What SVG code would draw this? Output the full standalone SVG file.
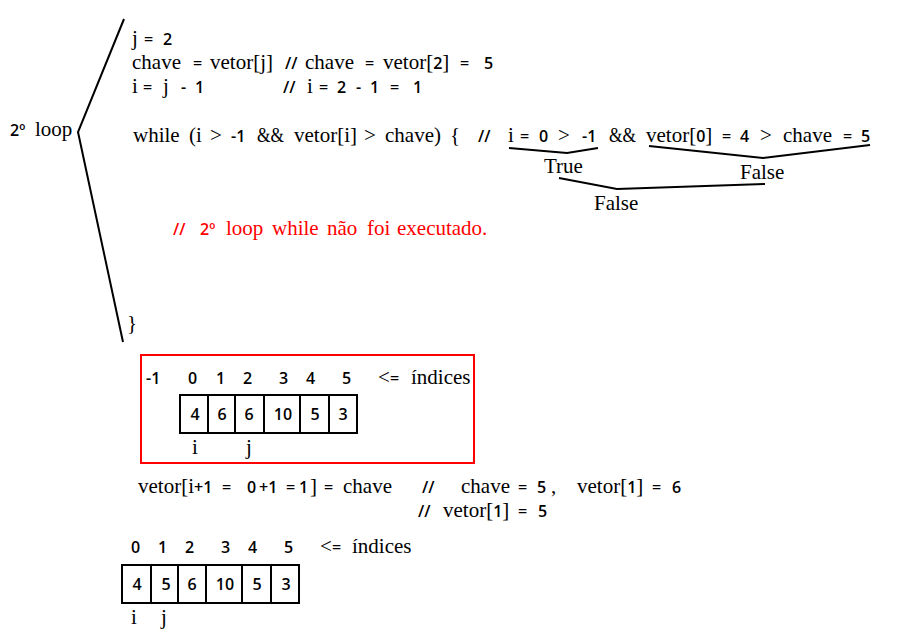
<svg xmlns="http://www.w3.org/2000/svg" width="898" height="638" viewBox="0 0 898 638">
<style>
.s{font-family:"Liberation Serif","Times New Roman",serif;font-size:21px;fill:#000}
.n{font-family:"Open Sans","Noto Sans","DejaVu Sans",sans-serif;font-size:16px;font-weight:600;fill:#000}
.r .s,.r .n{fill:#ff0000}
.ln{stroke:#000;stroke-width:2;fill:none}
.cell{stroke:#000;stroke-width:2;fill:#fff}
.c{text-anchor:middle}
</style>
<rect width="898" height="638" fill="#fff"/>
<g id="connectors">
<polyline class="ln" points="124,19 78,132 123,342"/>
<polyline class="ln" points="509,148 567,153 598,148"/>
<polyline class="ln" points="649,146 763,158 870,145"/>
<polyline class="ln" points="559,178 617,189 765,184"/>
</g>
<g id="label-loop">
<text y="136"><tspan class="n" x="10">2º</tspan><tspan class="s" x="35">loop</tspan></text>
</g>
<g id="code">
<text y="45"><tspan class="s" x="132">j</tspan><tspan class="n" x="144">=</tspan><tspan class="n" x="163">2</tspan></text>
<text y="69"><tspan class="s" x="132">chave</tspan><tspan class="n" x="193">=</tspan><tspan class="s" x="210">vetor[j]</tspan><tspan class="n" x="285">//</tspan><tspan class="s" x="305">chave</tspan><tspan class="n" x="365">=</tspan><tspan class="s" x="383">vetor[</tspan><tspan class="n">2</tspan><tspan class="s">]</tspan><tspan class="n" x="460">=</tspan><tspan class="n" x="484">5</tspan></text>
<text y="93"><tspan class="s" x="132">i</tspan><tspan class="n" x="143">=</tspan><tspan class="s" x="163">j</tspan><tspan class="n" x="181">-</tspan><tspan class="n" x="195">1</tspan><tspan class="n" x="283">//</tspan><tspan class="s" x="307">i</tspan><tspan class="n" x="319">=</tspan><tspan class="n" x="337">2</tspan><tspan class="n" x="356">-</tspan><tspan class="n" x="370">1</tspan><tspan class="n" x="390">=</tspan><tspan class="n" x="413">1</tspan></text>
<text y="142"><tspan class="s" x="133">while</tspan><tspan class="s" x="189">(i</tspan><tspan class="s" x="210">&gt;</tspan><tspan class="n" x="231">-1</tspan><tspan class="s" x="257" textLength="27" lengthAdjust="spacingAndGlyphs">&amp;&amp;</tspan><tspan class="s" x="294">vetor[i]</tspan><tspan class="s" x="364">&gt;</tspan><tspan class="s" x="385">chave)</tspan><tspan class="s" x="450">{</tspan><tspan class="n" x="478">//</tspan><tspan class="s" x="508">i</tspan><tspan class="n" x="520">=</tspan><tspan class="n" x="539">0</tspan><tspan class="s" x="558">&gt;</tspan><tspan class="n" x="582">-1</tspan><tspan class="s" x="609" textLength="27" lengthAdjust="spacingAndGlyphs">&amp;&amp;</tspan><tspan class="s" x="646">vetor[</tspan><tspan class="n">0</tspan><tspan class="s">]</tspan><tspan class="n" x="722">=</tspan><tspan class="n" x="740">4</tspan><tspan class="s" x="760">&gt;</tspan><tspan class="s" x="783">chave</tspan><tspan class="n" x="843">=</tspan><tspan class="n" x="861">5</tspan></text>
<text class="s" x="127" y="330">}</text>
</g>
<g id="eval">
<text class="s" x="544" y="173">True</text>
<text class="s" x="740" y="179">False</text>
<text class="s" x="594" y="210">False</text>
</g>
<g id="note" class="r">
<text y="235"><tspan class="n" x="173">//</tspan><tspan class="n" x="200">2º</tspan><tspan class="s" x="226">loop</tspan><tspan class="s" x="272">while</tspan><tspan class="s" x="327">não</tspan><tspan class="s" x="367">foi</tspan><tspan class="s" x="397">executado.</tspan></text>
</g>
<g id="array1">
<rect x="141" y="355" width="333" height="108" fill="none" stroke="#ff0000" stroke-width="2"/>
<text y="384"><tspan class="n" x="146">-1</tspan><tspan class="n" x="188">0</tspan><tspan class="n" x="216">1</tspan><tspan class="n" x="243">2</tspan><tspan class="n" x="279">3</tspan><tspan class="n" x="306">4</tspan><tspan class="n" x="342">5</tspan><tspan class="s" x="378">&lt;</tspan><tspan class="n" x="390">=</tspan><tspan class="s" x="411">índices</tspan></text>
<rect class="cell" x="180" y="395" width="28" height="38"/>
<rect class="cell" x="208" y="395" width="27" height="38"/>
<rect class="cell" x="235" y="395" width="29" height="38"/>
<rect class="cell" x="264" y="395" width="36" height="38"/>
<rect class="cell" x="300" y="395" width="29" height="38"/>
<rect class="cell" x="329" y="395" width="28" height="38"/>
<text class="n c" x="195" y="420">4</text>
<text class="n c" x="222" y="420">6</text>
<text class="n c" x="249" y="420">6</text>
<text class="n c" x="283" y="420">10</text>
<text class="n c" x="315" y="420">5</text>
<text class="n c" x="343" y="420">3</text>
<text class="s" x="192" y="454">i</text>
<text class="s" x="246" y="454">j</text>
</g>
<g id="assign">
<text y="493"><tspan class="s" x="138">vetor[i</tspan><tspan class="n">+1</tspan><tspan class="n" x="222">=</tspan><tspan class="n" x="247">0</tspan><tspan class="n" x="259">+1</tspan><tspan class="n" x="286">=</tspan><tspan class="n" x="299">1</tspan><tspan class="s" x="310">]</tspan><tspan class="n" x="324">=</tspan><tspan class="s" x="343">chave</tspan><tspan class="n" x="422">//</tspan><tspan class="s" x="461">chave</tspan><tspan class="n" x="518">=</tspan><tspan class="n" x="537">5</tspan><tspan class="s" x="551">,</tspan><tspan class="s" x="577">vetor[</tspan><tspan class="n">1</tspan><tspan class="s">]</tspan><tspan class="n" x="652">=</tspan><tspan class="n" x="672">6</tspan></text>
<text y="517"><tspan class="n" x="418">//</tspan><tspan class="s" x="443">vetor[</tspan><tspan class="n">1</tspan><tspan class="s">]</tspan><tspan class="n" x="518">=</tspan><tspan class="n" x="538">5</tspan></text>
</g>
<g id="array2">
<text y="553"><tspan class="n" x="131">0</tspan><tspan class="n" x="158">1</tspan><tspan class="n" x="185">2</tspan><tspan class="n" x="221">3</tspan><tspan class="n" x="248">4</tspan><tspan class="n" x="284">5</tspan><tspan class="s" x="320">&lt;</tspan><tspan class="n" x="332">=</tspan><tspan class="s" x="352">índices</tspan></text>
<rect class="cell" x="122" y="565" width="29" height="38"/>
<rect class="cell" x="151" y="565" width="27" height="38"/>
<rect class="cell" x="178" y="565" width="28" height="38"/>
<rect class="cell" x="206" y="565" width="36" height="38"/>
<rect class="cell" x="242" y="565" width="29" height="38"/>
<rect class="cell" x="271" y="565" width="28" height="38"/>
<text class="n c" x="137" y="590">4</text>
<text class="n c" x="166" y="590">5</text>
<text class="n c" x="192" y="590">6</text>
<text class="n c" x="225" y="590">10</text>
<text class="n c" x="257" y="590">5</text>
<text class="n c" x="286" y="590">3</text>
<text class="s" x="131" y="624">i</text>
<text class="s" x="161" y="624">j</text>
</g>
</svg>
